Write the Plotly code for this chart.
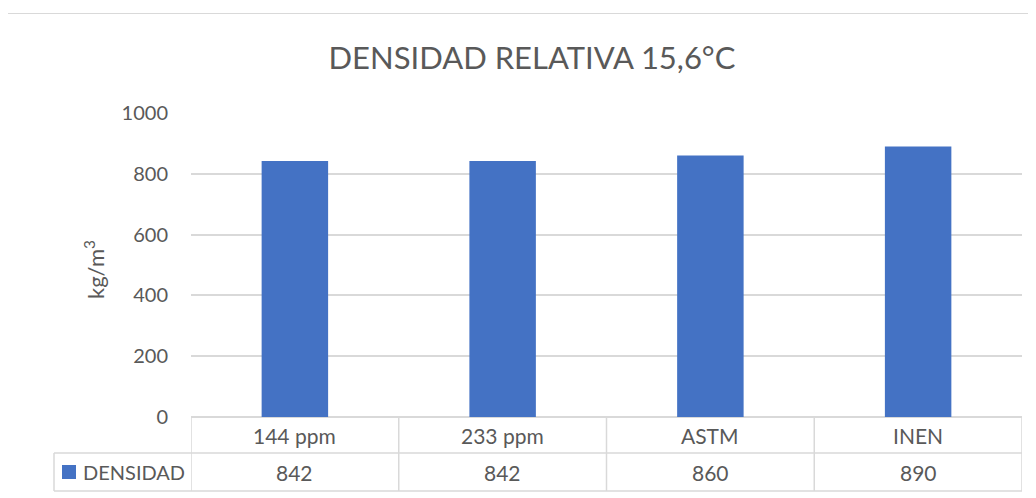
import plotly.graph_objects as go

categories = ["144 ppm", "233 ppm", "ASTM", "INEN"]
densidad = [842, 842, 860, 890]
series_name = "DENSIDAD"
y_ticks = [0, 200, 400, 600, 800, 1000]
title_text = "DENSIDAD RELATIVA 15,6°C"
y_title = "kg/m<sup>3</sup>"

OFF = 8  # page body margin
W, H = 1036 - OFF, 498 - OFF
L, R, T, B = 191, 1022, 113, 417  # in screen pixels
TXT = "#595959"
GRID = "#d9d9d9"
BLUE = "#4472C4"
FONT = "Lato"


def px(p):
    return (p - L) / (R - L)


def py(q):
    return (B - q) / (B - T)


fig = go.Figure()
fig.add_trace(go.Bar(x=categories, y=densidad, name=series_name,
                     marker=dict(color=BLUE, line=dict(width=0)), width=0.32))

shapes = []
# outer chart border
shapes.append(dict(type="line", xref="paper", yref="paper", x0=px(4.5), x1=px(1040), y0=py(13.5), y1=py(13.5),
                   line=dict(color=GRID, width=1.2)))
shapes.append(dict(type="line", xref="paper", yref="paper", x0=px(4.5), x1=px(4.5), y0=py(13.5), y1=py(510),
                   line=dict(color=GRID, width=1.2)))
# table horizontals
for yy, x0 in [(453, 54), (491, 54)]:
    shapes.append(dict(type="line", xref="paper", yref="paper", x0=px(x0), x1=1, y0=py(yy), y1=py(yy),
                       line=dict(color=GRID, width=1.5)))
# table verticals
shapes.append(dict(type="line", xref="paper", yref="paper", x0=px(54), x1=px(54), y0=py(453), y1=py(491),
                   line=dict(color=GRID, width=1.5)))
n = len(categories)
for k in range(n + 1):
    shapes.append(dict(type="line", xref="x", yref="paper", x0=k - 0.5, x1=k - 0.5, y0=0, y1=py(491),
                       line=dict(color=GRID, width=1.5)))
# legend key
shapes.append(dict(type="rect", xref="paper", yref="paper", x0=px(62), x1=px(76), y0=py(465), y1=py(479),
                   fillcolor=BLUE, line=dict(width=0)))

annotations = []
for c, v in zip(categories, densidad):
    annotations.append(dict(x=c, y=py(435), xref="x", yref="paper", text=c, showarrow=False,
                            font=dict(size=21, color=TXT, family=FONT), xanchor="center", yanchor="middle"))
    annotations.append(dict(x=c, y=py(472), xref="x", yref="paper", text=str(v), showarrow=False,
                            font=dict(size=21, color=TXT, family=FONT), xanchor="center", yanchor="middle"))
annotations.append(dict(x=px(81), y=py(472), xref="paper", yref="paper", text=series_name, showarrow=False,
                        font=dict(size=20, color=TXT, family=FONT), xanchor="left", yanchor="middle"))
annotations.append(dict(x=px(94), y=py(270), xref="paper", yref="paper", text=y_title, showarrow=False,
                        textangle=-90, font=dict(size=22, color=TXT, family=FONT), xanchor="center", yanchor="middle"))

fig.update_layout(
    width=W, height=H,
    margin=dict(l=L - OFF, r=W - (R - OFF), t=T - OFF, b=H - (B - OFF), autoexpand=False),
    paper_bgcolor="white", plot_bgcolor="white",
    showlegend=False,
    title=dict(text=title_text, xref="container", x=(532 - OFF) / W, xanchor="center",
               yref="container", y=1 - (58 - OFF) / H, yanchor="middle",
               font=dict(size=31, color=TXT, family=FONT)),
    shapes=shapes, annotations=annotations,
)
fig.update_xaxes(showticklabels=False, showgrid=False, zeroline=False, showline=False,
                 range=[-0.5, n - 0.5], ticks="")
fig.update_yaxes(range=[0, 1000], tickvals=y_ticks, showgrid=True, gridcolor=GRID, gridwidth=1.5,
                 zeroline=True, zerolinecolor=GRID, zerolinewidth=1.5, showline=False, ticks="",
                 tickfont=dict(size=20, color=TXT, family=FONT), ticklabelstandoff=22)

fig.write_html("out.html")
